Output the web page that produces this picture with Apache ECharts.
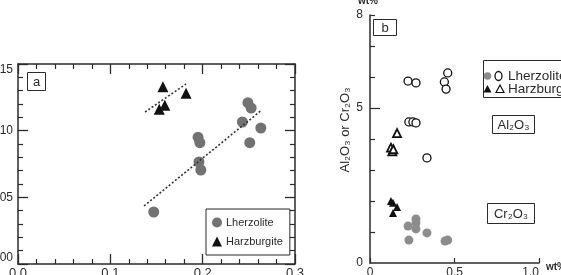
<!DOCTYPE html>
<html>
<head>
<meta charset="utf-8">
<script src="https://cdn.jsdelivr.net/npm/echarts@6/dist/echarts.min.js"></script>
<style>
  html, body { margin: 0; padding: 0; background: #fff; }
  #chart { width: 561px; height: 275px; }
</style>
</head>
<body>
<div id="chart"></div>
<script>
// panel a
const lherzX = [0.147, 0.195, 0.197, 0.196, 0.198, 0.243, 0.249, 0.2525, 0.263, 0.251]
const lherzY = [0.039, 0.095, 0.091, 0.0765, 0.0705, 0.1065, 0.121, 0.117, 0.102, 0.091]
const harzX = [0.157, 0.182, 0.153, 0.159]
const harzY = [0.133, 0.128, 0.116, 0.119]
const lherzTrendX = [0.1365, 0.264]
const lherzTrendY = [0.0435, 0.1155]
const harzTrendX = [0.1376, 0.182]
const harzTrendY = [0.114, 0.135]

// panel b (wt%)
const lherzCrX = [0.225, 0.272, 0.272, 0.272, 0.337, 0.23, 0.444, 0.46]
const lherzCrY = [1.19, 1.42, 1.29, 1.10, 0.97, 0.74, 0.71, 0.74]
const lherzAlX = [0.225, 0.272, 0.46, 0.44, 0.45, 0.23, 0.254, 0.272, 0.337]
const lherzAlY = [5.87, 5.81, 6.13, 5.84, 5.61, 4.55, 4.55, 4.52, 3.39]
const harzCrX = [0.124, 0.136, 0.16, 0.136]
const harzCrY = [2.0, 1.94, 1.81, 1.61]
const harzAlX = [0.16, 0.124, 0.132, 0.138]
const harzAlY = [4.19, 3.72, 3.60, 3.67]

const bYLabels = [0, 5, 8]
const bYMinorTicks = [1, 2, 3, 4, 6, 7, 8]
const bYMajorTicks = [5]

const font = 'Liberation Sans, Arial, sans-serif'
const ink = '#2b2b2b'
const pairs = (xs, ys) => xs.map((x, i) => [x, ys[i]])

const chart = echarts.init(document.getElementById('chart'))

const frameAxis = {
  axisLine: { show: true, onZero: false, lineStyle: { color: ink, width: 1.5 } },
  axisTick: { show: true, inside: true, length: 10, lineStyle: { color: ink, width: 1.3 } },
  minorTick: { show: true, splitNumber: 5, length: 5, lineStyle: { color: ink, width: 1.2 } },
  splitLine: { show: false },
  minorSplitLine: { show: false }
}

const option = {
  animation: false,
  textStyle: { fontFamily: font },
  grid: [
    { left: 18, top: 64, width: 277, height: 200, outerBoundsMode: 'none', containLabel: false },
    { left: 370, top: 15, width: 169, height: 248, outerBoundsMode: 'none', containLabel: false }
  ],
  legend: {
    data: ['Lherzolite', 'Harzburgite'],
    orient: 'vertical',
    left: 206,
    top: 209,
    padding: [8, 7, 8, 6],
    itemWidth: 10,
    itemHeight: 10,
    itemGap: 8,
    itemStyle: { borderWidth: 0 },
    borderColor: ink,
    borderWidth: 1,
    borderRadius: 0,
    textStyle: { fontSize: 11, color: ink, fontFamily: font, padding: [0, 0, 0, -1] }
  },
  xAxis: [
    {
      type: 'value', gridIndex: 0, position: 'bottom', min: 0, max: 0.3, interval: 0.1,
      ...frameAxis,
      axisLabel: { margin: 3, fontSize: 13, color: ink, formatter: v => v.toFixed(1) }
    },
    {
      type: 'value', gridIndex: 0, position: 'top', min: 0, max: 0.3, interval: 0.1,
      ...frameAxis,
      axisLabel: { show: false }
    },
    {
      type: 'value', gridIndex: 1, position: 'bottom', min: 0, max: 1, interval: 0.5,
      axisLine: { show: true, onZero: false, lineStyle: { color: ink, width: 1.5 } },
      axisTick: { show: true, inside: true, length: 5, lineStyle: { color: ink, width: 1.2 } },
      splitLine: { show: false },
      axisLabel: {
        margin: 4, fontSize: 12, color: ink, alignMaxLabel: 'right',
        formatter: v => (v === 0 ? '0' : v.toFixed(1))
      }
    }
  ],
  yAxis: [
    {
      type: 'value', gridIndex: 0, position: 'left', min: 0, max: 0.15, interval: 0.05,
      ...frameAxis,
      axisLabel: {
        margin: 5, fontSize: 12, color: ink,
        verticalAlignMaxLabel: 'top', verticalAlignMinLabel: 'bottom',
        formatter: v => v.toFixed(2)
      }
    },
    {
      type: 'value', gridIndex: 0, position: 'right', min: 0, max: 0.15, interval: 0.05,
      ...frameAxis,
      axisLabel: { show: false }
    },
    {
      type: 'value', gridIndex: 1, position: 'left', min: 0, max: 8,
      axisLine: { show: true, onZero: false, lineStyle: { color: ink, width: 1.5 } },
      axisTick: { show: true, inside: true, length: 5, customValues: bYMinorTicks, lineStyle: { color: ink, width: 1.2 } },
      splitLine: { show: false },
      axisLabel: { margin: 7, fontSize: 12, color: ink, customValues: bYLabels }
    },
    {
      type: 'value', gridIndex: 1, position: 'left', offset: 0, min: 0, max: 8,
      axisLine: { show: false },
      axisTick: { show: true, inside: true, length: 10, customValues: bYMajorTicks, lineStyle: { color: ink, width: 1.2 } },
      splitLine: { show: false },
      axisLabel: { show: false }
    }
  ],
  series: [
    {
      name: 'Lherzolite trend', type: 'line', xAxisIndex: 0, yAxisIndex: 0,
      data: pairs(lherzTrendX, lherzTrendY), symbol: 'none', silent: true,
      lineStyle: { color: '#333', width: 1.6, type: [2, 2] }
    },
    {
      name: 'Harzburgite trend', type: 'line', xAxisIndex: 0, yAxisIndex: 0,
      data: pairs(harzTrendX, harzTrendY), symbol: 'none', silent: true,
      lineStyle: { color: '#333', width: 1.6, type: [2, 2] }
    },
    {
      name: 'Lherzolite', type: 'scatter', xAxisIndex: 0, yAxisIndex: 0,
      symbol: 'circle', symbolSize: 11,
      itemStyle: { color: '#727272', opacity: 1 },
      data: pairs(lherzX, lherzY)
    },
    {
      name: 'Harzburgite', type: 'scatter', xAxisIndex: 0, yAxisIndex: 0,
      symbol: 'triangle', symbolSize: 11,
      itemStyle: { color: '#111', opacity: 1 },
      data: pairs(harzX, harzY)
    },
    {
      name: 'Lherzolite Cr2O3', type: 'scatter', xAxisIndex: 2, yAxisIndex: 2,
      symbol: 'circle', symbolSize: 9,
      itemStyle: { color: '#8c8c8c', opacity: 1 },
      data: pairs(lherzCrX, lherzCrY)
    },
    {
      name: 'Lherzolite Al2O3', type: 'scatter', xAxisIndex: 2, yAxisIndex: 2,
      symbol: 'circle', symbolSize: 8,
      itemStyle: { color: '#fff', borderColor: '#111', borderWidth: 1.3, opacity: 1 },
      data: pairs(lherzAlX, lherzAlY)
    },
    {
      name: 'Harzburgite Cr2O3', type: 'scatter', xAxisIndex: 2, yAxisIndex: 2,
      symbol: 'triangle', symbolSize: 8,
      itemStyle: { color: '#111', opacity: 1 },
      data: pairs(harzCrX, harzCrY)
    },
    {
      name: 'Harzburgite Al2O3', type: 'scatter', xAxisIndex: 2, yAxisIndex: 2,
      symbol: 'triangle', symbolSize: 8,
      itemStyle: { color: '#fff', borderColor: '#111', borderWidth: 1.8, opacity: 1 },
      data: pairs(harzAlX, harzAlY)
    }
  ],
  graphic: [
    // panel labels
    { type: 'rect', shape: { x: 27.5, y: 72.5, width: 18, height: 18 }, style: { fill: '#fff', stroke: ink, lineWidth: 1 } },
    { type: 'text', x: 36.5, y: 82, style: { text: 'a', font: '13px ' + font, fill: ink, align: 'center', verticalAlign: 'middle' } },
    { type: 'rect', shape: { x: 373.5, y: 19.5, width: 23, height: 16 }, style: { fill: '#fff', stroke: ink, lineWidth: 1 } },
    { type: 'text', x: 385, y: 28, style: { text: 'b', font: '13px ' + font, fill: ink, align: 'center', verticalAlign: 'middle' } },
    // oxide boxes
    { type: 'rect', shape: { x: 492.5, y: 115.5, width: 42, height: 18 }, style: { fill: '#fff', stroke: ink, lineWidth: 1 } },
    { type: 'text', x: 513.5, y: 125, style: { text: 'Al₂O₃', font: '13px ' + font, fill: ink, align: 'center', verticalAlign: 'middle' } },
    { type: 'rect', shape: { x: 487.5, y: 203.5, width: 47, height: 20 }, style: { fill: '#fff', stroke: ink, lineWidth: 1 } },
    { type: 'text', x: 511, y: 214, style: { text: 'Cr₂O₃', font: '13px ' + font, fill: ink, align: 'center', verticalAlign: 'middle' } },
    // panel b axis titles
    { type: 'text', x: 345, y: 130, rotation: Math.PI / 2, style: { text: 'Al₂O₃ or Cr₂O₃', font: '13px ' + font, fill: ink, align: 'center', verticalAlign: 'middle' } },
    { type: 'text', x: 368, y: 6, style: { text: 'wt%', font: 'bold 10px ' + font, fill: ink, align: 'center', verticalAlign: 'bottom' } },
    { type: 'text', x: 546, y: 267, style: { text: 'wt%', font: 'bold 10px ' + font, fill: ink, align: 'left', verticalAlign: 'middle' } },
    // panel b legend
    { type: 'rect', shape: { x: 483.5, y: 60.5, width: 90, height: 37 }, style: { fill: '#fff', stroke: ink, lineWidth: 1 } },
    { type: 'circle', shape: { cx: 487.5, cy: 76, r: 3.8 }, style: { fill: '#8c8c8c' } },
    { type: 'ellipse', shape: { cx: 498.5, cy: 76, rx: 3.5, ry: 4.5 }, style: { fill: '#fff', stroke: '#111', lineWidth: 1.3 } },
    { type: 'text', x: 508, y: 76, style: { text: 'Lherzolite', font: '13.5px ' + font, fill: ink, verticalAlign: 'middle' } },
    { type: 'polygon', shape: { points: [[487.5, 85], [491.5, 92.5], [483.5, 92.5]] }, style: { fill: '#111' } },
    { type: 'polygon', shape: { points: [[500, 85], [504, 92.5], [496, 92.5]] }, style: { fill: '#fff', stroke: '#111', lineWidth: 1.2 } },
    { type: 'text', x: 508, y: 89.5, style: { text: 'Harzburgite', font: '13.5px ' + font, fill: ink, verticalAlign: 'middle' } }
  ]
}

chart.setOption(option)
</script>
</body>
</html>
